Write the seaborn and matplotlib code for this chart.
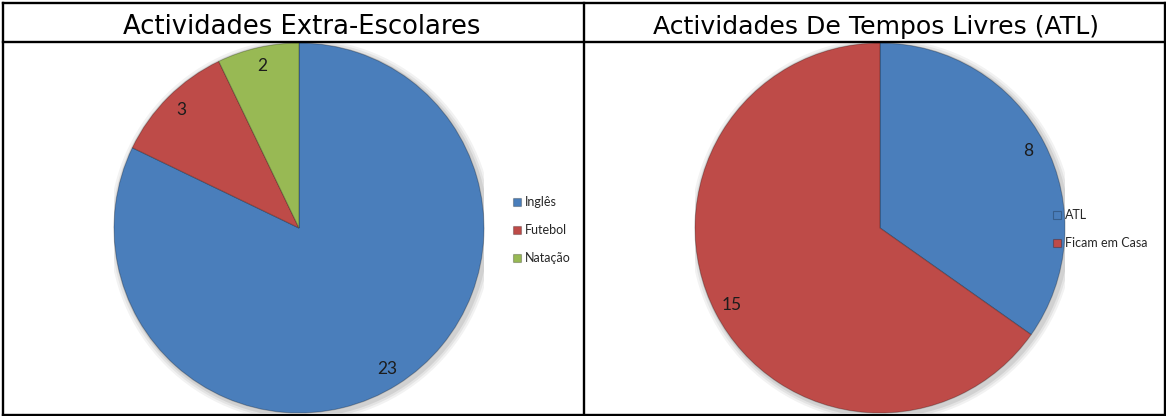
import matplotlib
matplotlib.use("Agg")
import matplotlib.pyplot as plt
import seaborn as sns
from matplotlib.lines import Line2D
from matplotlib.patches import Circle

# Data
extra_labels = ["Inglês", "Futebol", "Natação"]
extra_values = [23, 3, 2]
atl_labels = ["ATL", "Ficam em Casa"]
atl_values = [8, 15]
titles = ["Actividades Extra-Escolares", "Actividades De Tempos Livres (ATL)"]

sns.set_theme(style="white")
plt.rcParams["font.family"] = ["Lato", "DejaVu Sans"]

palette = sns.color_palette(["#4a7ebb", "#be4b48", "#98b954"])

W, H = 1166, 416
fig = plt.figure(figsize=(W / 100, H / 100), dpi=100)
fig.patch.set_facecolor("white")


def fx(px):
    return px / W


def fy(py):
    return (H - py) / H


def pie_axes(cx, cy, r):
    return fig.add_axes([fx(cx - r), fy(cy + r), 2 * r / W, 2 * r / H])


def draw_pie(ax, values, labels, colors, legend_x, legend_y):
    total = sum(values)
    # soft drop shadow under the disc
    for k, a in enumerate([0.05, 0.06, 0.08]):
        ax.add_patch(Circle((0.012, -0.012), 1.0 + 0.012 * (3 - k),
                            facecolor="black", alpha=a, edgecolor="none", zorder=0))
    wedges, _, autotexts = ax.pie(
        values,
        colors=colors,
        startangle=90,
        counterclock=False,
        autopct=lambda p: f"{round(p * total / 100)}",
        pctdistance=0.9,
        wedgeprops=dict(edgecolor=(0, 0, 0, 0.25), linewidth=0.8, zorder=2),
        textprops=dict(fontsize=12.5, color="#1c1c1c"),
    )
    for t in autotexts:
        t.set_zorder(3)
    ax.set_xlim(-1.0, 1.0)
    ax.set_ylim(-1.0, 1.0)
    ax.set_aspect("equal")
    ax.axis("off")
    ax.legend(
        wedges,
        labels,
        loc="center left",
        bbox_to_anchor=(fx(legend_x), fy(legend_y)),
        bbox_transform=fig.transFigure,
        frameon=False,
        fontsize=9,
        handlelength=0.6,
        handleheight=0.6,
        handletextpad=0.35,
        labelspacing=1.28,
        borderpad=0,
        borderaxespad=0,
    )


ax1 = pie_axes(299, 228, 185)
draw_pie(ax1, extra_values, extra_labels, palette[:3], 513, 230)

ax2 = pie_axes(880, 228, 185)
draw_pie(ax2, atl_values, atl_labels, palette[:2], 1053, 229)

# Cell titles
fig.text(fx(302), fy(34), titles[0], ha="center", va="baseline",
         fontsize=18.6, family="DejaVu Sans", color="black")
fig.text(fx(876), fy(34), titles[1], ha="center", va="baseline",
         fontsize=18.1, family="DejaVu Sans", color="black")

# Table grid around the two charts
lw = 1.7
grid = [
    ((3, 1165), (3, 3)),
    ((3, 1165), (414.5, 414.5)),
    ((3, 1165), (41.5, 41.5)),
    ((3, 3), (3, 414.5)),
    ((1165, 1165), (3, 414.5)),
    ((584, 584), (3, 414.5)),
]
for xs, ys in grid:
    fig.add_artist(Line2D([fx(x) for x in xs], [fy(y) for y in ys],
                          color="black", linewidth=lw, solid_capstyle="projecting",
                          zorder=10))

fig.savefig("out.png", dpi=100, facecolor="white")
